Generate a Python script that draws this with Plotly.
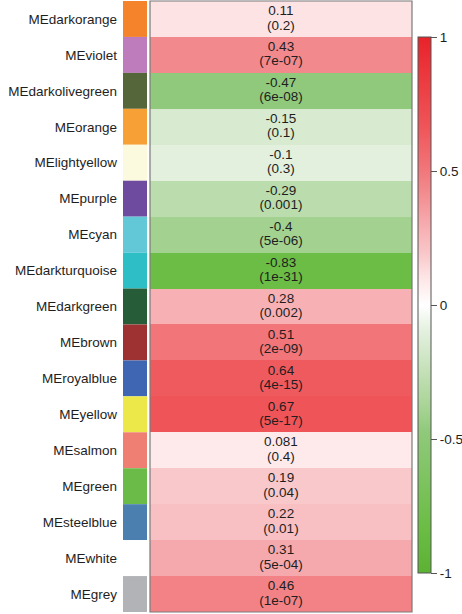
import plotly.graph_objects as go

# Module eigengenes, their trait correlation and p-values
modules = ["MEdarkorange", "MEviolet", "MEdarkolivegreen", "MEorange", "MElightyellow",
           "MEpurple", "MEcyan", "MEdarkturquoise", "MEdarkgreen", "MEbrown",
           "MEroyalblue", "MEyellow", "MEsalmon", "MEgreen", "MEsteelblue",
           "MEwhite", "MEgrey"]
cor = [0.11, 0.43, -0.47, -0.15, -0.1, -0.29, -0.4, -0.83, 0.28, 0.51,
       0.64, 0.67, 0.081, 0.19, 0.22, 0.31, 0.46]
pvals = ["0.2", "7e-07", "6e-08", "0.1", "0.3", "0.001", "5e-06", "1e-31", "0.002",
         "2e-09", "4e-15", "5e-17", "0.4", "0.04", "0.01", "5e-04", "1e-07"]
module_colors = ["#f5832b", "#be7cbd", "#55663a", "#f7a036", "#fbfadf", "#6f4ba0",
                 "#62c7d6", "#2ebfc6", "#275c38", "#9e3132", "#3f66b3", "#ece84a",
                 "#f07f73", "#6bbb48", "#4a7fb0", "#ffffff", "#b1b3b6"]
cbar_ticks = [1, 0.5, 0, -0.5, -1]

rows = list(range(len(modules)))

# green - white - red scale over [-1, 1]
colorscale = [
    [0.0, "#5cb233"],
    [0.085, "#6bbd45"],
    [0.265, "#90c97b"],
    [0.30, "#a3d290"],
    [0.355, "#bbdcac"],
    [0.425, "#d8ebd1"],
    [0.45, "#e3f0de"],
    [0.5, "#ffffff"],
    [0.555, "#fde3e4"],
    [0.595, "#f9c8ca"],
    [0.64, "#f7b1b4"],
    [0.715, "#f2898c"],
    [0.755, "#f17579"],
    [0.835, "#ef5458"],
    [1.0, "#e8232a"],
]

font_family = "Liberation Sans, Arial, sans-serif"
txt_color = "#1e1e1e"
fsize = 13.5

W, H = 462, 614
M_T, M_B = 1, 2
plot_h = H - M_T - M_B

fig = go.Figure()

# colour swatches for each module
fig.add_trace(go.Bar(
    x=[1] * len(modules), y=rows, orientation="h", width=1,
    marker=dict(color=module_colors, line=dict(width=0)),
    xaxis="x2", yaxis="y", hoverinfo="skip", showlegend=False,
))

# correlation heatmap
fig.add_trace(go.Heatmap(
    z=[[c] for c in cor], x=[0], y=rows,
    zmin=-1, zmax=1, colorscale=colorscale, xgap=0, ygap=0,
    hoverinfo="skip",
    colorbar=dict(
        x=418 / W, xanchor="left", xpad=0, thickness=13,
        lenmode="pixels", len=536, y=(H - M_B - 305) / plot_h, yanchor="middle", ypad=0,
        tickvals=cbar_ticks, ticktext=[str(t) for t in cbar_ticks],
        ticks="outside", ticklen=6, tickcolor="#555", tickwidth=1,
        outlinewidth=1, outlinecolor="#555",
        tickfont=dict(family=font_family, size=fsize, color=txt_color),
    ),
    xaxis="x", yaxis="y",
))

# correlation value (upper line) and p-value (lower line) in each cell
fig.add_trace(go.Scatter(
    x=[0] * len(modules), y=[r - 0.2 for r in rows], mode="text",
    text=[str(c) for c in cor], textposition="middle center",
    textfont=dict(family=font_family, size=fsize, color=txt_color),
    hoverinfo="skip", showlegend=False, xaxis="x", yaxis="y",
))
fig.add_trace(go.Scatter(
    x=[0] * len(modules), y=[r + 0.2 for r in rows], mode="text",
    text=["(" + p + ")" for p in pvals], textposition="middle center",
    textfont=dict(family=font_family, size=fsize, color=txt_color),
    hoverinfo="skip", showlegend=False, xaxis="x", yaxis="y",
))

fig.update_layout(
    width=W, height=H,
    margin=dict(l=0, r=0, t=M_T, b=M_B, autoexpand=False),
    paper_bgcolor="white", plot_bgcolor="white",
    font=dict(family=font_family, color=txt_color),
    xaxis=dict(domain=[150 / W, 412 / W], range=[-0.5, 0.5],
               showticklabels=False, showgrid=False, zeroline=False, ticks=""),
    xaxis2=dict(domain=[123 / W, 147 / W], range=[0, 1],
                showticklabels=False, showgrid=False, zeroline=False, ticks=""),
    yaxis=dict(range=[len(modules) - 0.5, -0.5], anchor="x2",
               tickvals=rows, ticktext=modules, ticks="",
               ticklabelstandoff=5, automargin=False,
               tickfont=dict(family=font_family, size=fsize, color=txt_color),
               showgrid=False, zeroline=False),
    shapes=[dict(type="rect", xref="x domain", yref="y domain",
                 x0=0, x1=1, y0=0, y1=1,
                 line=dict(color="#7a7a7a", width=1.2))],
)

fig.write_html("out.html")
